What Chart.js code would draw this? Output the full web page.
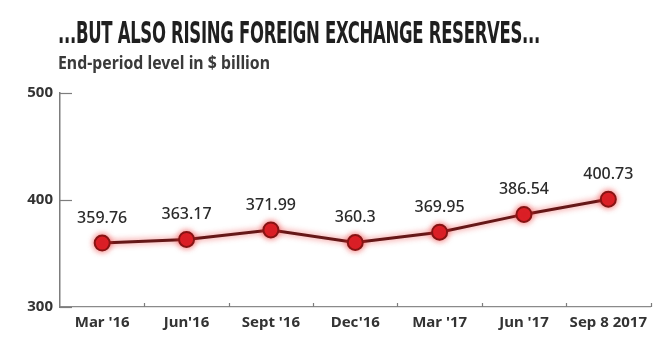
<!DOCTYPE html>
<html>
<head>
<meta charset="utf-8">
<script src="https://cdn.jsdelivr.net/npm/chart.js@4"></script>
<style>
    html, body { margin: 0; padding: 0; background: #fff; }
    #wrap { position: relative; width: 660px; height: 340px; overflow: hidden; }
    #chart { position: absolute; left: 0; top: 0; }
    .heading { position: absolute; left: 58px; white-space: nowrap; transform-origin: 0 0; }
    #title {
        top: 15px;
        font: bold 30px "Liberation Sans Narrow", "DejaVu Sans Condensed", "Liberation Sans", sans-serif;
        color: #1f1f1f;
        letter-spacing: -0.5px;
    }
    #subtitle {
        top: 51px;
        font: bold 17px "Noto Sans", "DejaVu Sans", sans-serif;
        color: #3a3a3a;
    }
</style>
</head>
<body>
<div id="wrap">
    <canvas id="chart" width="660" height="340"></canvas>
    <div id="title" class="heading">...BUT ALSO RISING FOREIGN EXCHANGE RESERVES...</div>
    <div id="subtitle" class="heading">End-period level in $ billion</div>
</div>
<script>
// Reserve levels, $ billion
const periods = ["Mar '16", "Jun'16", "Sept '16", "Dec'16", "Mar '17", "Jun '17", "Sep 8 2017"];
const reserves = [359.76, 363.17, 371.99, 360.3, 369.95, 386.54, 400.73];
const valueLabels = ["359.76", "363.17", "371.99", "360.3", "369.95", "386.54", "400.73"];
const yTicks = [300, 400, 500];

// Squeeze headings to the widths they occupy
function fitWidth(id, width) {
    const el = document.getElementById(id);
    const w = el.getBoundingClientRect().width;
    el.style.transform = 'scaleX(' + (width / w) + ')';
}
fitWidth('title', 482);
fitWidth('subtitle', 212);

// Short tick marks on the inside of the axes
const axisTicks = {
    id: 'axisTicks',
    afterDraw(chart) {
        const ctx = chart.ctx;
        const area = chart.chartArea;
        const x = chart.scales.x;
        const y = chart.scales.y;
        ctx.save();
        ctx.strokeStyle = '#7d7d7d';
        ctx.lineWidth = 1.2;
        yTicks.forEach(v => {
            const py = Math.round(y.getPixelForValue(v)) + 0.5;
            ctx.beginPath();
            ctx.moveTo(area.left, py);
            ctx.lineTo(area.left + 12, py);
            ctx.stroke();
        });
        for (let i = 0; i < periods.length; i++) {
            const px = Math.round(x.getPixelForValue(i) + (x.getPixelForValue(1) - x.getPixelForValue(0)) / 2) + 0.5;
            ctx.beginPath();
            ctx.moveTo(px, area.bottom);
            ctx.lineTo(px, area.bottom - 4);
            ctx.stroke();
        }
        ctx.restore();
    }
};

// Value labels above each point
const valueText = {
    id: 'valueText',
    afterDatasetsDraw(chart) {
        const ctx = chart.ctx;
        const meta = chart.getDatasetMeta(0);
        ctx.save();
        ctx.font = '500 16px "Noto Sans", "DejaVu Sans", sans-serif';
        ctx.fillStyle = '#2b2b2b';
        ctx.textAlign = 'center';
        ctx.textBaseline = 'middle';
        meta.data.forEach((pt, i) => {
            ctx.fillText(valueLabels[i], pt.x, pt.y - 25);
        });
        ctx.restore();
    }
};

// Soft red halo around the line
const lineGlow = {
    id: 'lineGlow',
    beforeDatasetDraw(chart) {
        const ctx = chart.ctx;
        ctx.save();
        ctx.shadowColor = 'rgba(235, 40, 40, 0.7)';
        ctx.shadowBlur = 6;
    },
    afterDatasetDraw(chart) {
        chart.ctx.restore();
    }
};

new Chart(document.getElementById('chart'), {
    type: 'line',
    data: {
        labels: periods,
        datasets: [{
            data: reserves,
            borderColor: '#651818',
            borderWidth: 3,
            pointRadius: 7.5,
            pointBackgroundColor: '#d81e26',
            pointBorderColor: '#861414',
            pointBorderWidth: 2,
            tension: 0
        }]
    },
    options: {
        responsive: false,
        animation: false,
        layout: { padding: { top: 93, right: 3, left: 0, bottom: 0 } },
        plugins: {
            legend: { display: false },
            tooltip: { enabled: false }
        },
        scales: {
            x: {
                offset: true,
                afterFit(scale) { scale.height = 33; },
                grid: { display: false, drawTicks: false },
                border: { color: '#8a8a8a', width: 1.2 },
                ticks: {
                    padding: 7,
                    color: '#333',
                    font: { family: '"Noto Sans", "DejaVu Sans", sans-serif', size: 15, weight: 'bold' }
                }
            },
            y: {
                min: 300,
                max: 500,
                afterFit(scale) { scale.width = 60; },
                afterBuildTicks(scale) { scale.ticks = yTicks.map(v => ({ value: v })); },
                grid: { display: false, drawTicks: false },
                border: { color: '#7d7d7d', width: 1.5 },
                ticks: {
                    padding: 7,
                    color: '#333',
                    font: { family: '"Noto Sans", "DejaVu Sans", sans-serif', size: 15, weight: 'bold' }
                }
            }
        }
    },
    plugins: [lineGlow, valueText, axisTicks]
});
</script>
</body>
</html>
